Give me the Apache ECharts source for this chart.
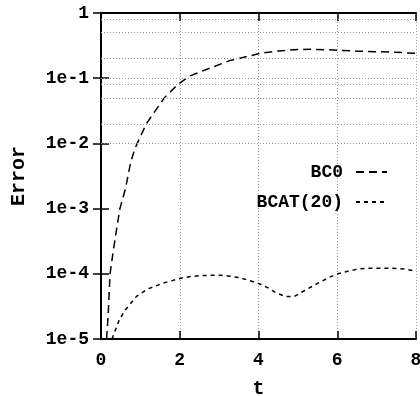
<!DOCTYPE html>
<html>
<head>
<meta charset="utf-8">
<script src="https://cdn.jsdelivr.net/npm/echarts@6/dist/echarts.min.js"></script>
<style>
  html, body { margin: 0; padding: 0; background: #fff; }
  #chart { width: 420px; height: 396px; }
</style>
</head>
<body>
<div id="chart"></div>
<script>
// values
const bc0T = [0.14, 0.18, 0.23, 0.30, 0.40, 0.48, 0.62, 0.75, 0.85, 0.92, 1.15, 1.61, 1.95, 2.25, 2.76, 3.27, 4.04, 4.5, 5.0, 5.31, 5.8, 6.0, 6.5, 7.0, 7.5, 8.0];
const bc0Err = [1e-5, 2.2e-5, 1e-4, 2e-4, 5e-4, 1e-3, 2e-3, 5e-3, 8e-3, 1e-2, 2e-2, 5e-2, 8e-2, 0.108, 0.142, 0.186, 0.24, 0.262, 0.275, 0.278, 0.272, 0.268, 0.26, 0.255, 0.25, 0.24];

const bcatT = [0.28, 0.47, 0.62, 0.9, 1.2, 1.36, 1.57, 1.82, 2.07, 2.3, 2.56, 2.78, 3.03, 3.27, 3.53, 3.76, 3.98, 4.22, 4.45, 4.68, 4.91, 5.14, 5.36, 5.59, 5.81, 6.02, 6.29, 6.52, 6.76, 7.02, 7.25, 7.48, 7.71, 8.0];
const bcatErr = [1e-5, 2e-5, 2.8e-5, 4.5e-5, 5.9e-5, 6.4e-5, 7.2e-5, 7.9e-5, 8.7e-5, 9.1e-5, 9.4e-5, 9.5e-5, 9.5e-5, 9.2e-5, 8.7e-5, 7.9e-5, 7.2e-5, 6.2e-5, 5.1e-5, 4.5e-5, 4.5e-5, 5.4e-5, 6.4e-5, 7.6e-5, 8.9e-5, 1e-4, 1.1e-4, 1.18e-4, 1.22e-4, 1.22e-4, 1.22e-4, 1.21e-4, 1.18e-4, 1.1e-4];

const yTickLabels = ['1e-5', '1e-4', '1e-3', '1e-2', '1e-1', '1'];
// horizontal grid lines (decades plus 0.8, 0.5, 0.2 of each)
const gridY = [
  0.8, 0.5, 0.2, 0.1,
  0.08, 0.05, 0.02, 0.01,
  8e-3, 5e-3, 2e-3, 1e-3,
  8e-4, 5e-4, 2e-4, 1e-4,
  8e-5, 5e-5, 2e-5
];

const font = '"Liberation Mono", "DejaVu Sans Mono", monospace';
const lbl = { fontFamily: font, fontWeight: 'bold', fontSize: 18, color: '#000' };
const nameLbl = Object.assign({}, lbl, { fontSize: 20 });
const frame = { show: true, lineStyle: { color: '#000', width: 2 } };
const ticks = { show: true, inside: true, length: 8, lineStyle: { color: '#000', width: 1.5 } };
const dotted = { color: '#999', width: 1, type: [1, 2] };

const chart = echarts.init(document.getElementById('chart'));

const legendBox = (name, top) => ({
  data: [name], right: 32, top: top, align: 'right', padding: 0,
  itemWidth: 31, itemHeight: 10, selectedMode: false,
  itemStyle: { opacity: 0 },
  lineStyle: { opacity: 1 },
  textStyle: Object.assign({ padding: [0, 8, 0, 0] }, lbl)
});

chart.setOption({
  animation: false,
  grid: { left: 101, right: 4, top: 13, bottom: 57, outerBoundsMode: 'none', containLabel: false },
  xAxis: [
    {
      type: 'value', min: 0, max: 8, interval: 2,
      axisLine: frame, axisTick: ticks,
      axisLabel: Object.assign({ margin: 12 }, lbl),
      splitLine: { show: true, lineStyle: dotted },
      name: 't', nameLocation: 'middle', nameGap: 40,
      nameTextStyle: nameLbl
    },
    {
      type: 'value', min: 0, max: 8, interval: 2, position: 'top',
      axisLine: frame, axisTick: ticks,
      axisLabel: { show: false },
      splitLine: { show: false }
    }
  ],
  yAxis: [
    {
      type: 'log', logBase: 10, min: 1e-5, max: 1,
      axisLine: frame, axisTick: ticks,
      axisLabel: Object.assign({
        margin: 12,
        formatter: v => yTickLabels[Math.round(Math.log10(v)) + 5]
      }, lbl),
      splitLine: { show: false },
      name: 'Error', nameLocation: 'middle', nameGap: 72, nameRotate: 90,
      nameTextStyle: nameLbl
    },
    {
      type: 'log', logBase: 10, min: 1e-5, max: 1, position: 'right',
      axisLine: frame, axisTick: ticks,
      axisLabel: { show: false },
      splitLine: { show: false }
    }
  ],
  legend: [legendBox('BC0', 163), legendBox('BCAT(20)', 193)],
  series: [
    {
      name: 'grid', type: 'line', data: [], silent: true,
      markLine: {
        silent: true, symbol: 'none', label: { show: false },
        lineStyle: dotted,
        data: gridY.map(v => ({ yAxis: v }))
      }
    },
    {
      name: 'BC0', type: 'line', symbol: 'none', z: 3,
      data: bc0T.map((t, i) => [t, bc0Err[i]]),
      lineStyle: { color: '#000', width: 1.5, type: [8, 5] },
      itemStyle: { color: '#000' }
    },
    {
      name: 'BCAT(20)', type: 'line', symbol: 'none', z: 3,
      data: bcatT.map((t, i) => [t, bcatErr[i]]),
      lineStyle: { color: '#000', width: 1.5, type: [4, 4] },
      itemStyle: { color: '#000' }
    }
  ]
});
</script>
</body>
</html>
